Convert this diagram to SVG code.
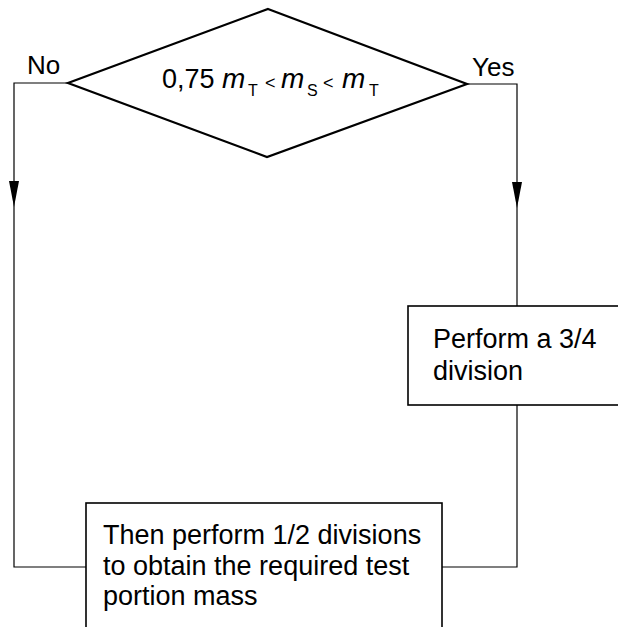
<svg xmlns="http://www.w3.org/2000/svg" width="618" height="627" viewBox="0 0 618 627">
<style>
  .t { font-family: "Liberation Sans", Arial, sans-serif; fill: #000; }
  .lbl { font-size: 26px; }
  .box { fill: #fff; stroke: #000; stroke-width: 1.6; }
  .dia { fill: #fff; stroke: #000; stroke-width: 2.2; stroke-linejoin: miter; }
  .con { fill: none; stroke: #000; stroke-width: 1.2; }
  .it { font-style: italic; font-size: 28px; }
  .sub { font-size: 16px; }
  .op { font-size: 18px; }
</style>
<defs>
  <marker id="arr" markerUnits="userSpaceOnUse" viewBox="0 0 26 10" refX="26" refY="5" markerWidth="26" markerHeight="10" orient="auto">
    <path d="M0,0 L26,5 L0,10 z" fill="#000"/>
  </marker>
</defs>
<rect width="618" height="627" fill="#fff"/>
<g id="connectors">
  <path class="con" d="M68,83 L14,83 L14,207" marker-end="url(#arr)"/>
  <path class="con" d="M14,207 L14,567 L86,567"/>
  <path class="con" d="M467,84 L517,84 L517,208" marker-end="url(#arr)"/>
  <path class="con" d="M517,208 L517,306"/>
  <path class="con" d="M517,405 L517,567 L442,567"/>
  <text class="t lbl" x="27" y="74">No</text>
  <text class="t lbl" x="472" y="76">Yes</text>
</g>
<g id="decision">
  <polygon class="dia" points="268,9 467,84 267,157 68,83"/>
  <text class="t" x="162" y="88" font-size="27">0,75</text>
  <text class="t it" x="222" y="88">m</text>
  <text class="t sub" x="248" y="96">T</text>
  <text class="t op" x="265" y="89">&lt;</text>
  <text class="t it" x="281" y="88">m</text>
  <text class="t sub" x="307" y="96">S</text>
  <text class="t op" x="323" y="89">&lt;</text>
  <text class="t it" x="342" y="88">m</text>
  <text class="t sub" x="369" y="96">T</text>
</g>
<g id="divide34">
  <rect class="box" x="408" y="306" width="230" height="99"/>
  <text class="t" font-size="27" x="433" y="348">Perform a 3/4</text>
  <text class="t" font-size="27" x="433" y="380">division</text>
</g>
<g id="divide12">
  <rect class="box" x="86" y="503" width="356" height="140"/>
  <text class="t" font-size="27" x="103" y="544">Then perform 1/2 divisions</text>
  <text class="t" font-size="27" x="103" y="575">to obtain the required test</text>
  <text class="t" font-size="27" x="103" y="605">portion mass</text>
</g>
</svg>
